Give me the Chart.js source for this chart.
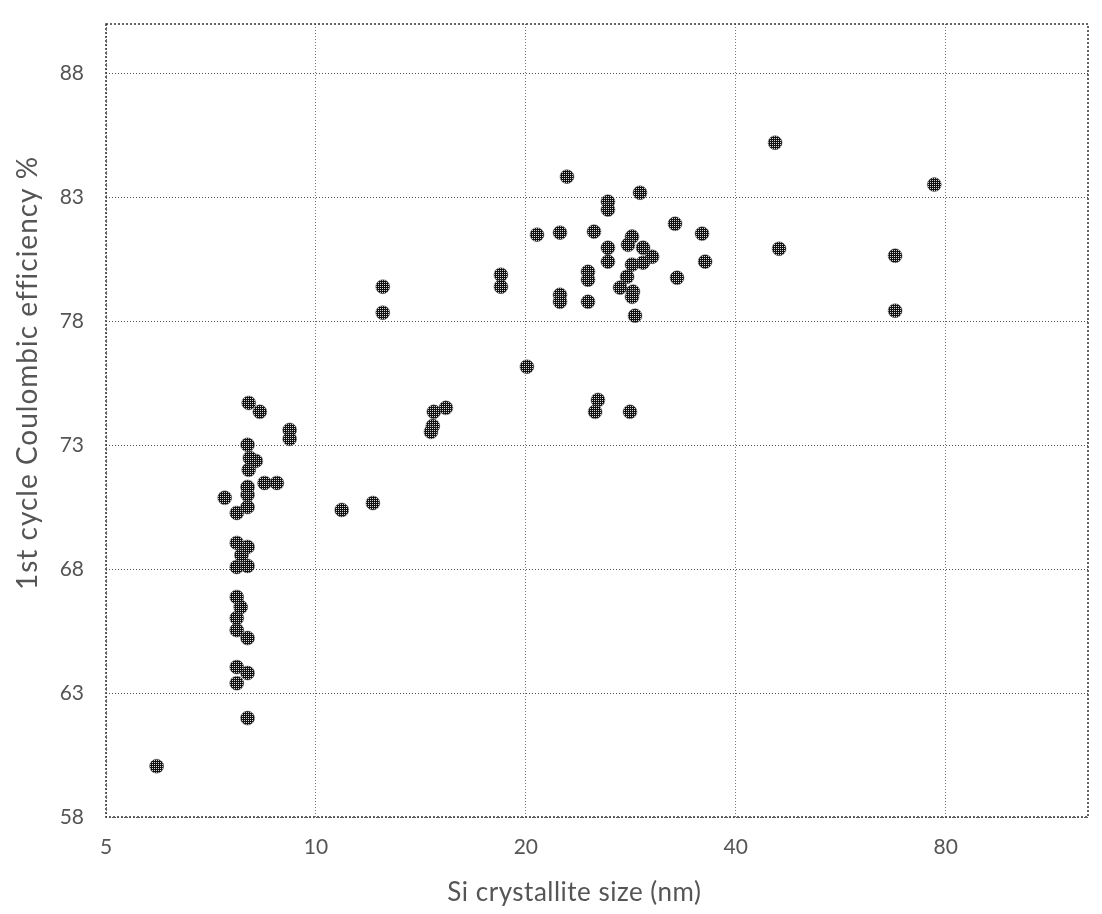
<!DOCTYPE html>
<html>
<head>
<meta charset="utf-8">
<title>Si crystallite size vs 1st cycle Coulombic efficiency</title>
<script src="https://cdn.jsdelivr.net/npm/chart.js@4/dist/chart.umd.min.js"></script>
<style>
  html, body { margin: 0; padding: 0; background: #fff; }
  #wrap { width: 1102px; height: 914px; }
</style>
</head>
<body>
<div id="wrap"><canvas id="chart" width="1102" height="914"></canvas></div>
<script>
// crystallite size (nm)
const sizeNm = [
  5.91, 7.98, 7.70, 7.98, 7.70, 7.98, 7.70, 7.70, 7.80, 7.70,
  7.70, 7.98, 7.82, 7.98, 7.70, 7.70, 7.40, 7.98, 7.98, 7.98,
  8.44, 8.79, 8.01, 8.20, 8.04, 7.98, 9.17, 9.17, 8.01, 8.31,
  10.89, 12.07, 12.47, 12.47, 15.36, 14.76, 14.71, 14.62,
  18.42, 18.42, 20.07, 20.75, 22.39, 22.91, 22.39, 22.39,
  24.56, 24.56, 24.56, 25.05, 25.38, 25.14,
  26.23, 26.23, 26.23, 26.23, 29.16, 28.40, 28.03, 29.45,
  30.35, 29.45, 28.40, 27.94, 27.30, 28.49, 28.40, 28.68, 28.21,
  32.73, 32.95, 35.79, 36.15, 45.55, 46.15, 67.7, 67.7, 77.06
];
// 1st cycle coulombic efficiency (%)
const efficiency = [
  60.05, 61.99, 63.40, 63.81, 64.05, 65.22, 65.54, 66.03, 66.47, 66.88,
  68.09, 68.13, 68.57, 68.90, 69.06, 70.27, 70.88, 70.51, 71.00, 71.32,
  71.48, 71.48, 72.01, 72.37, 72.49, 73.02, 73.62, 73.26, 74.71, 74.35,
  70.39, 70.67, 79.40, 78.35, 74.51, 74.35, 73.78, 73.54,
  79.88, 79.40, 76.17, 81.50, 81.58, 83.84, 79.07, 78.79,
  80.00, 79.68, 78.79, 81.62, 74.83, 74.35,
  82.83, 82.51, 80.97, 80.41, 83.19, 81.42, 81.09, 80.97,
  80.61, 80.37, 80.29, 79.80, 79.36, 79.20, 78.99, 78.23, 74.35,
  81.94, 79.76, 81.54, 80.41, 85.21, 80.93, 80.65, 78.43, 83.52
];

const xTicks = [5, 10, 20, 40, 80];
const yTicks = [58, 63, 68, 73, 78, 83, 88];
const xTitle = "Si crystallite size (nm)";
const yTitle = "1st cycle Coulombic efficiency %";

const FONT = "Lato, 'Open Sans', sans-serif";
const TEXT = "#555";

// halftone look of the markers
function makeDots() {
  const c = document.createElement("canvas");
  c.width = 2; c.height = 2;
  const g = c.getContext("2d");
  g.fillStyle = "#111";
  g.fillRect(0, 0, 2, 2);
  g.fillStyle = "#d8d8d8";
  g.fillRect(0, 0, 1, 1);
  return g.createPattern(c, "repeat");
}

const points = sizeNm.map((x, i) => ({ x: x, y: efficiency[i] }));

// dotted frame round the plot and the two axis titles
const framePlugin = {
  id: "frame",
  beforeDatasetsDraw(chart) {
    const a = chart.chartArea;
    const ctx = chart.ctx;
    ctx.save();
    ctx.strokeStyle = "#333";
    ctx.lineWidth = 1.5;
    ctx.setLineDash([2, 2]);
    ctx.strokeRect(a.left, a.top, a.right - a.left, a.bottom - a.top);
    ctx.restore();
  },
  afterDraw(chart) {
    const a = chart.chartArea;
    const ctx = chart.ctx;
    ctx.save();
    ctx.fillStyle = TEXT;
    ctx.textAlign = "center";
    ctx.textBaseline = "middle";
    ctx.font = "26px " + FONT;
    ctx.letterSpacing = "0.5px";
    ctx.fillText(xTitle, a.left + (a.right - a.left) * 0.477, 893);
    ctx.font = "28px " + FONT;
    ctx.letterSpacing = "1px";
    ctx.translate(28, a.top + (a.bottom - a.top) * 0.44);
    ctx.rotate(-Math.PI / 2);
    ctx.fillText(yTitle, 0, 0);
    ctx.restore();
  }
};

new Chart(document.getElementById("chart"), {
  type: "scatter",
  data: {
    datasets: [
      {
        data: points,
        backgroundColor: makeDots(),
        borderColor: "rgba(90,90,90,0.6)",
        borderWidth: 0.8,
        pointRadius: 7,
        pointHoverRadius: 7,
      },
    ],
  },
  options: {
    responsive: false,
    animation: false,
    layout: { padding: { top: 24, right: 14, left: 0, bottom: 0 } },
    plugins: {
      legend: { display: false },
      tooltip: { enabled: false },
    },
    scales: {
      x: {
        type: "logarithmic",
        min: 5,
        max: 128,
        afterBuildTicks: (scale) => { scale.ticks = xTicks.map(v => ({ value: v })); },
        afterFit: (scale) => { scale.height = 97; },
        ticks: {
          color: TEXT,
          font: { family: FONT, size: 21 },
          padding: 18,
          maxRotation: 0,
          callback: (v) => String(v),
        },
        grid: { color: "#777", lineWidth: 1, drawTicks: false },
        border: { display: false, dash: [1, 2] },
      },
      y: {
        type: "linear",
        min: 58,
        max: 90,
        afterBuildTicks: (scale) => { scale.ticks = yTicks.map(v => ({ value: v })); },
        afterFit: (scale) => {
          scale.width = 106;
          scale.paddingTop = 0;
          scale.paddingBottom = 0;
        },
        ticks: {
          color: TEXT,
          font: { family: FONT, size: 21 },
          padding: 22,
          callback: (v) => String(v),
        },
        grid: { color: "#555", lineWidth: 1, drawTicks: false },
        border: { display: false, dash: [1, 2] },
      },
    },
  },
  plugins: [framePlugin],
});
</script>
</body>
</html>
